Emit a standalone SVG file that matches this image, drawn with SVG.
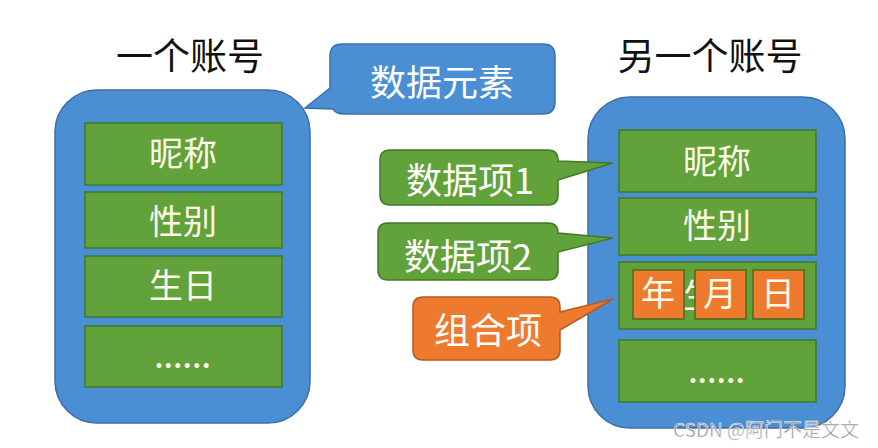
<svg xmlns="http://www.w3.org/2000/svg" width="878" height="448" viewBox="0 0 878 448">
<style>
text{font-family:"Noto Sans CJK SC","Noto Sans",sans-serif;text-anchor:middle}
.title{font-size:37px;fill:#111}
.blue{fill:#4a8ed4;stroke:#3b6ea6;stroke-width:1.5}
.green{fill:#62a23a;stroke:#3f7a28;stroke-width:1.5}
.orange{fill:#ee7a2e;stroke:#4d6b22;stroke-width:1.5}
.orangec{fill:#ee7a2e;stroke:#b85a1f;stroke-width:1.5}
.wt{fill:#fffbe8;font-size:34px}
.dots{fill:#fffbe8;font-size:26px;font-weight:bold;letter-spacing:1px}
.ct{fill:#ffffff;font-size:36px}
</style>
<rect width="878" height="448" fill="#ffffff"/>
<g id="title-left"><text class="title" x="190" y="70">一个账号</text></g>
<g id="title-right"><text class="title" x="710" y="70">另一个账号</text></g>
<g id="account-left">
<rect class="blue" x="55" y="90" width="255" height="333" rx="42"/>
<g id="left-nick"><rect class="green" x="85" y="123" width="197" height="62"/><text class="wt" x="183" y="166">昵称</text></g>
<g id="left-sex"><rect class="green" x="85" y="192" width="197" height="56"/><text class="wt" x="183" y="234">性别</text></g>
<g id="left-birth"><rect class="green" x="85" y="256" width="197" height="61"/><text class="wt" x="183" y="298">生日</text></g>
<g id="left-more"><rect class="green" x="85" y="326" width="197" height="61"/><text class="dots" x="183" y="368">......</text></g>
</g>
<g id="account-right">
<rect class="blue" x="588" y="97" width="257" height="331" rx="42"/>
<g id="right-nick"><rect class="green" x="619" y="130" width="197" height="62"/><text class="wt" x="717" y="174">昵称</text></g>
<g id="right-sex"><rect class="green" x="619" y="198" width="197" height="57"/><text class="wt" x="717" y="238">性别</text></g>
<g id="right-birth"><rect class="green" x="619" y="262" width="197" height="67"/><text class="wt" x="717" y="308">生日</text>
<rect class="orange" x="633" y="270" width="51" height="49"/><text class="wt" x="658" y="306">年</text>
<rect class="orange" x="695" y="270" width="51" height="49"/><text class="wt" x="720" y="306">月</text>
<rect class="orange" x="753" y="270" width="51" height="49"/><text class="wt" x="778" y="306">日</text>
</g>
<g id="right-more"><rect class="green" x="619" y="340" width="197" height="62"/><text class="dots" x="717" y="383">......</text></g>
</g>
<g id="callouts">
<g id="callout-element"><path class="blue" d="M342,44 H543 Q555,44 555,56 V102 Q555,114 543,114 H345 Q336,114 333,109 L305,108 L330,88 V56 Q330,44 342,44 Z"/><text class="ct" x="442" y="96">数据元素</text></g>
<g id="callout-item1"><path class="green" d="M390,150 H548 Q558,150 558,160 V161 L613,163 L558,180 V195 Q558,205 548,205 H390 Q380,205 380,195 V160 Q380,150 390,150 Z"/><text class="ct" x="470" y="194">数据项1</text></g>
<g id="callout-item2"><path class="green" d="M388,223 H548 Q558,223 558,233 V233 L613,238 L558,252 V270 Q558,280 548,280 H388 Q378,280 378,270 V233 Q378,223 388,223 Z"/><text class="ct" x="468" y="270">数据项2</text></g>
<g id="callout-combo"><path class="orangec" d="M423,297 H550 Q560,297 560,307 V312 L613,299 L560,330 V350 Q560,360 550,360 H423 Q413,360 413,350 V307 Q413,297 423,297 Z"/><text class="ct" x="488" y="344">组合项</text></g>
</g>
<g id="watermark"><text x="766" y="437" style="font-size:19px;fill:#8a8a8a;stroke:#ffffff;stroke-width:0.5">CSDN @阿门不是文文</text></g>
</svg>
